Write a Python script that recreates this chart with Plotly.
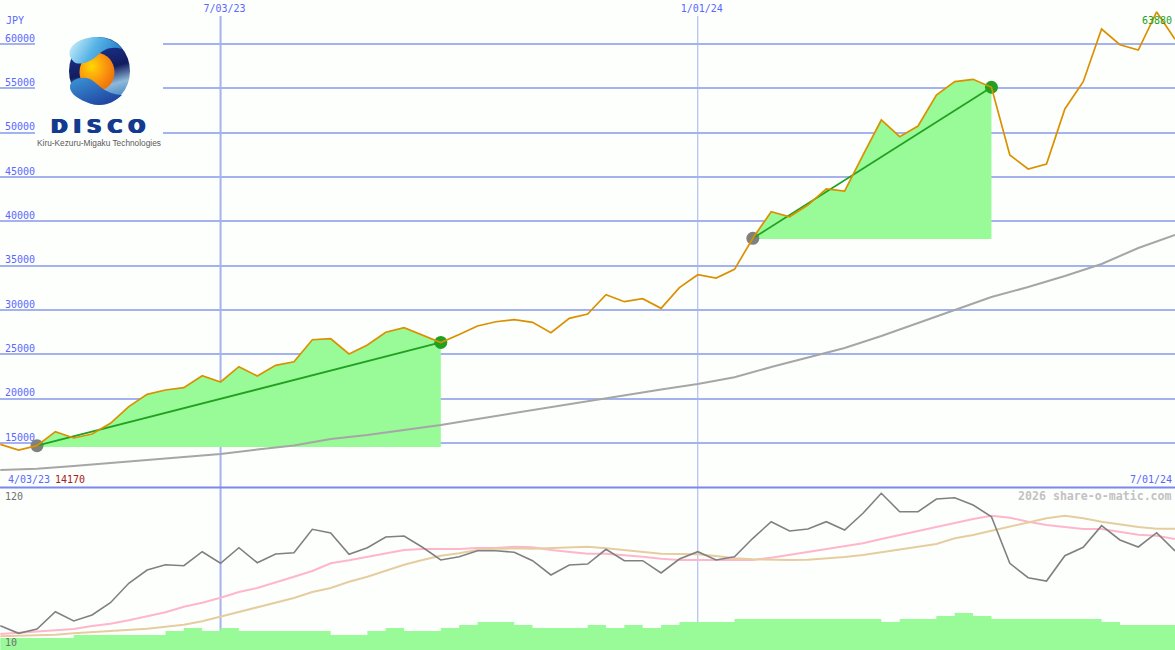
import base64
import pandas as pd
import plotly.graph_objects as go

W, H = 1175, 650
WEEKS = list(pd.date_range("2023-04-10", periods=65, freq="7D"))

PRICE = [14850, 14210, 14700, 16280, 15570, 16020, 17220, 19100, 20490, 20980, 21240, 22590, 21880,
         23610, 22560, 23760, 24170, 26650, 26760, 25040, 26050, 27490, 28000, 27180, 26340, 27240,
         28200, 28680, 28910, 28610, 27440, 29060, 29550, 31730, 30940, 31270, 30190, 32520, 33980,
         33610, 34590, 38090, 41090, 40520, 41840, 43650, 43420, 47480, 51430, 49550, 50750, 54250,
         55750, 56020, 55120, 47480, 45900, 46470, 52670, 55750, 61690, 59920, 59320, 63610, 60530]
LONG_AVG = [11960, 12100, 12410, 12745, 13030, 13365, 13760, 14270, 14720, 15450, 15900, 16470, 17030,
            17710, 18380, 19060, 19740, 20350, 21030, 21650, 22410, 23570, 24640, 25720, 27070, 28530,
            30000, 31470, 32590, 33830, 35190, 36990, 38460]
STRENGTH = [27.0, 21.7, 24.7, 36.8, 30.3, 34.5, 43.1, 56.7, 66, 69.7, 69, 78.8, 70.7, 81.6, 71.1, 77.2,
            78.1, 94.5, 91.9, 77, 81.6, 89.1, 89.8, 81.9, 73, 75.3, 79.5, 79.5, 78.4, 72.5, 62.5, 69.5,
            70.2, 80.5, 72.5, 72.5, 63.9, 73.7, 78.8, 73, 75.3, 88.2, 99.8, 93.3, 94.7, 99.8, 94, 105.7,
            119.7, 106.8, 106.8, 115.7, 116.6, 111.5, 103.3, 70.7, 60.6, 58.3, 76, 81.9, 97, 87, 82.1,
            92.1, 79.3]
PINK_AVG = [21.2, 22.1, 23.1, 23.8, 24.7, 26.8, 28.4, 30.8, 33.8, 36.4, 40.3, 43.1, 46.6, 50.6, 53.4,
            57.1, 61.3, 65.3, 70.7, 72.8, 75.3, 77.7, 80, 80.7, 80.7, 80.7, 81.4, 81.4, 82.3, 81.9, 80,
            78.8, 77.4, 77.4, 76.5, 75.3, 73.9, 73, 73, 73, 73, 73, 74.6, 76.7, 78.8, 80.9, 82.8, 84.7,
            87.7, 90.5, 93.5, 96.3, 99.4, 101.7, 104, 102.6, 99.8, 97.5, 96.1, 94.7, 94.7, 92.8, 90.7,
            90, 87.7]
TAN_AVG = [19.6, 19.8, 20, 20.7, 21.7, 22.4, 23.1, 24, 24.9, 26.3, 27.7, 30.1, 33.3, 36.6, 39.6, 43.1,
           46.4, 50.6, 53.4, 57.8, 61.3, 65.5, 69.7, 73, 76, 77.7, 80, 80.9, 81.2, 80.9, 81.4, 81.4,
           82.3, 81.2, 80, 78.8, 77.4, 77.2, 77, 75.8, 74.2, 73.5, 73, 73, 73.2, 73.9, 75.1, 76.5, 78.4,
           80, 81.9, 84.2, 88.2, 90.5, 93.5, 96.3, 99.6, 102.2, 104, 102.2, 99.8, 98, 96.1, 94.9, 94.9]
VOLUME = [18.4, 18.4, 18.4, 18.4, 20.5, 20.5, 20.5, 20.5, 20.5, 23.3, 25.4, 23.3, 25.4, 23.3, 23.3, 23.3,
          23.3, 23.3, 20.5, 20.5, 23.3, 25.4, 23.3, 23.3, 25.4, 27.5, 29.6, 29.6, 27.5, 25.4, 25.4, 25.4,
          27.5, 25.4, 27.5, 25.4, 27.5, 29.6, 29.6, 29.6, 31.7, 31.7, 31.7, 31.7, 31.7, 31.7, 31.7, 31.7,
          29.6, 31.7, 31.7, 33.8, 35.9, 33.8, 31.7, 31.7, 31.7, 31.7, 31.7, 31.7, 29.6, 27.5, 27.5, 27.5, 27.5]
# (first week, last week, floor of the shaded gain)
GAIN_SPANS = [(2, 24, 14550), (41, 54, 38010)]
PRICE_TICKS = [15000, 20000, 25000, 30000, 35000, 40000, 45000, 50000, 55000, 60000]
DATE_TICKS = ["2023-07-03", "2024-01-01"]
DATE_LABELS = ["7/03/23", "1/01/24"]

BG = "#FDFFFD"
GRID = "#A4B2F0"
BLUE = "#5A68FF"
GREEN = "#98FB98"
DARK_GREEN = "#22A022"
ORANGE = "#DB9000"
MONO = "DejaVu Sans Mono"


def py(y):
    return 1 - y / H


fig = go.Figure()

for a, b, floor in GAIN_SPANS:
    fig.add_trace(go.Scatter(x=WEEKS[a:b + 1] + [WEEKS[b], WEEKS[a]], y=PRICE[a:b + 1] + [floor, floor],
                             mode="lines", fill="toself", fillcolor=GREEN, line=dict(width=0),
                             hoverinfo="skip", showlegend=False))
fig.add_trace(go.Scatter(x=WEEKS[::2], y=LONG_AVG, mode="lines", line=dict(color="#A6A6A6", width=2),
                         showlegend=False))
for a, b, floor in GAIN_SPANS:
    fig.add_trace(go.Scatter(x=[WEEKS[a]], y=[PRICE[a]], mode="markers",
                             marker=dict(color="#808080", size=13), showlegend=False))
    fig.add_trace(go.Scatter(x=[WEEKS[b]], y=[PRICE[b]], mode="markers",
                             marker=dict(color=DARK_GREEN, size=13), showlegend=False))
    fig.add_trace(go.Scatter(x=[WEEKS[a], WEEKS[b]], y=[PRICE[a], PRICE[b]], mode="lines",
                             line=dict(color=DARK_GREEN, width=1.8), showlegend=False))
fig.add_trace(go.Scatter(x=WEEKS, y=PRICE, mode="lines", line=dict(color=ORANGE, width=1.7), showlegend=False))

lower = dict(xaxis="x2", yaxis="y2", showlegend=False)
fig.add_trace(go.Scatter(x=WEEKS, y=VOLUME, mode="lines", fill="tozeroy", fillcolor=GREEN,
                         line=dict(width=0, shape="hv"), **lower))
fig.add_trace(go.Scatter(x=WEEKS, y=PINK_AVG, mode="lines", line=dict(color="#FFB6CC", width=2), **lower))
fig.add_trace(go.Scatter(x=WEEKS, y=TAN_AVG, mode="lines", line=dict(color="#E6CDA0", width=2), **lower))
fig.add_trace(go.Scatter(x=WEEKS, y=STRENGTH, mode="lines", line=dict(color="#808080", width=1.6), **lower))

x_range = ["2023-04-09 21:17", "2024-07-01 00:00"]

logo_svg = """<svg xmlns="http://www.w3.org/2000/svg" width="128" height="120" viewBox="35 32 128 120">
<defs>
<linearGradient id="ball" x1="0" y1="0" x2="0.25" y2="1">
<stop offset="0" stop-color="#3a6fc0"/><stop offset="0.28" stop-color="#1b2f86"/>
<stop offset="0.58" stop-color="#121c5e"/><stop offset="0.82" stop-color="#8fb9d8"/>
<stop offset="1" stop-color="#4f8fc8"/></linearGradient>
<radialGradient id="sun" cx="0.35" cy="0.35" r="0.75">
<stop offset="0" stop-color="#ffd800"/><stop offset="0.5" stop-color="#fb9a10"/>
<stop offset="1" stop-color="#ee6c08"/></radialGradient>
<linearGradient id="top" x1="0" y1="0.3" x2="1" y2="0.6">
<stop offset="0" stop-color="#c6ebf9"/><stop offset="0.45" stop-color="#58b4e6"/>
<stop offset="1" stop-color="#1e78c4"/></linearGradient>
<linearGradient id="bottom" x1="0" y1="0" x2="0.8" y2="1">
<stop offset="0" stop-color="#3c96d6"/><stop offset="1" stop-color="#1d3f9e"/></linearGradient>
</defs>
<rect x="35" y="32" width="128" height="120" fill="#FDFFFD"/>
<ellipse cx="99.5" cy="71" rx="30.5" ry="34" fill="url(#ball)"/>
<ellipse cx="97" cy="72" rx="17.5" ry="19" fill="url(#sun)"/>
<path d="M69.5 52 C71 42 88 35 102 37.5 C112 39.5 118 43 122 49 C112 46 104 49 98 55 C91 62 79 66 74 62 C71 59 69 56 69.5 52 Z" fill="url(#top)"/>
<path d="M70 86 C71 79 82 76 90 79 C99 84 104 94 122 95 C113 104 100 107 90 103.5 C80 100 69 94 70 86 Z" fill="url(#bottom)"/>
</svg>"""
logo_uri = "data:image/svg+xml;base64," + base64.b64encode(logo_svg.encode()).decode()

fig.update_layout(
    width=W, height=H, margin=dict(l=0, r=0, t=0, b=0),
    paper_bgcolor=BG, plot_bgcolor=BG, showlegend=False, hovermode=False,
    xaxis=dict(domain=[0, 1], range=x_range, type="date", anchor="y", side="top", showgrid=False, zeroline=False,
               showline=False, ticks="", tickmode="array", tickvals=DATE_TICKS, ticktext=DATE_LABELS,
               ticklabelposition="inside", ticklabelshift=4, ticklabelstandoff=2,
               tickfont=dict(family=MONO, size=10, color=BLUE)),
    yaxis=dict(domain=[py(487), 1], range=[10040, 64962], anchor="x", tickmode="array", tickvals=PRICE_TICKS,
               ticktext=[str(v) for v in PRICE_TICKS], ticks="", showline=False, zeroline=False,
               gridcolor=GRID, gridwidth=2, ticklabelposition="inside", ticklabelshift=-6, ticklabelstandoff=2,
               tickfont=dict(family=MONO, size=10, color=BLUE)),
    xaxis2=dict(domain=[0, 1], range=x_range, type="date", anchor="y2", showgrid=False, zeroline=False,
                showline=False, ticks="", showticklabels=False),
    yaxis2=dict(domain=[0, py(487)], range=[10, 124.1], anchor="x2", showgrid=False, zeroline=False,
                showline=False, ticks="", showticklabels=False),
    shapes=[
        dict(type="line", xref="x", yref="paper", x0=DATE_TICKS[0], x1=DATE_TICKS[0], y0=0, y1=py(16),
             layer="below", line=dict(color=GRID, width=2)),
        dict(type="line", xref="x", yref="paper", x0=DATE_TICKS[1], x1=DATE_TICKS[1], y0=0, y1=py(16),
             layer="below", line=dict(color=GRID, width=1)),
        dict(type="line", xref="paper", yref="paper", x0=0, x1=1, y0=py(487.5), y1=py(487.5), layer="above",
             line=dict(color="#7B88EE", width=2)),
    ],
    images=[dict(source=logo_uri, xref="paper", yref="paper", x=35 / W, y=py(32), sizex=128 / W, sizey=120 / H,
                 xanchor="left", yanchor="top", sizing="stretch", layer="above")],
)


def label(text, x, y, color=BLUE, size=10, anchor="left", family=MONO, bold=False, shadow=None):
    font = dict(family=family, size=size, color=color)
    if shadow:
        font["shadow"] = shadow
    fig.add_annotation(text=f"<b>{text}</b>" if bold else text, x=x / W, y=py(y), xref="paper", yref="paper",
                       xanchor=anchor, yanchor="middle", showarrow=False, font=font, borderpad=0, borderwidth=0)


label("JPY", 6, 21)
label("4/03/23", 8, 479)
label("14170", 55, 479, color="#A52020")
label("7/01/24", 1172, 479, anchor="right")
label("63880", 1172, 21, color=DARK_GREEN, anchor="right")
label("120", 5, 496, color="#707070")
label("10", 5, 642, color="#707070")
label("2026 share-o-matic.com", 1172, 496, color="#C2C2C2", size=11.6, anchor="right", bold=True)
label('<span style="letter-spacing:6px">DISCO</span>', 51, 126, color="#123B8F", size=20, family="DejaVu Sans",
      bold=True, shadow="1px 0 #123B8F, -1px 0 #123B8F")
label("Kiru-Kezuru-Migaku Technologies", 37, 143, color="#5A5A5A", size=8.3, family="Liberation Sans")

fig.write_html("out.html", include_plotlyjs=True, config={"displayModeBar": False},
               post_script="document.body.style.margin='0';document.body.style.overflow='hidden';")
